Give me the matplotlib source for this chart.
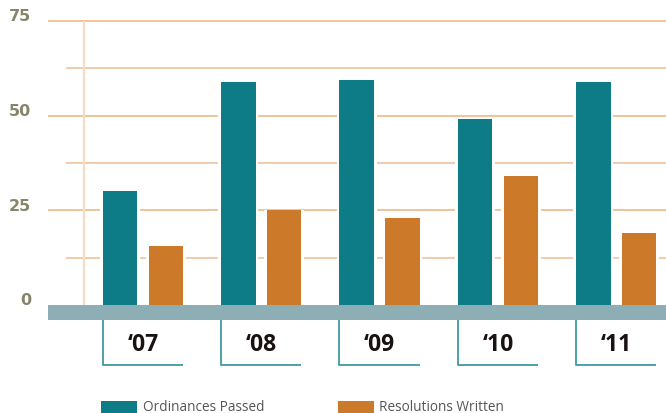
import matplotlib
matplotlib.use("Agg")
import matplotlib.pyplot as plt
from matplotlib.patches import Rectangle
import numpy as np

# Data
years = ["\u201807", "\u201808", "\u201809", "\u201810", "\u201811"]
ordinances = [30, 59, 59.5, 49, 59]
resolutions = [15.5, 25, 23, 34, 19]
y_ticks = [0, 25, 50, 75]
minor_ticks = [12.5, 37.5, 62.5]
series_names = ["Ordinances Passed", "Resolutions Written"]

TEAL = "#0e7c87"
ORANGE = "#cc7a29"
BAND = "#8eaeb6"
GRID = "#eebf93"
VLINE = "#f5dcc6"
BOXLINE = "#3d9ba3"
TICKCOL = "#86856a"

W, H = 666, 414
fig = plt.figure(figsize=(W / 100, H / 100), dpi=100)
ax = fig.add_axes([0, 0, 1, 1])

# pixel -> data conversion helpers
PX_PER_UNIT = 3.785
ZERO_PX = 305.9
GROUP_PX = 118.3
FIRST_PX = 143.0


def px_x(p):
    return (p - FIRST_PX) / GROUP_PX


def px_y(p):
    return (ZERO_PX - p) / PX_PER_UNIT


ax.set_xlim(px_x(0), px_x(W))
ax.set_ylim(px_y(H), px_y(0))
ax.axis("off")

x = np.arange(len(years))
bw = 0.2916
off = 0.1937

# gridlines
for v in y_ticks[1:]:
    ax.plot([px_x(48), px_x(W)], [v, v], color=GRID, lw=1.3, zorder=1,
            solid_capstyle="butt")
for v in minor_ticks:
    ax.plot([px_x(66), px_x(W)], [v, v], color=GRID, lw=1.1, zorder=1,
            solid_capstyle="butt")
ax.plot([px_x(83.7), px_x(83.7)], [0, 75], color=VLINE, lw=1.6, zorder=1,
        solid_capstyle="butt")

# bars with white halo so gridlines break around them
pad = 0.045
for xs, vals, col in [(x - off, ordinances, TEAL), (x + off, resolutions, ORANGE)]:
    ax.bar(xs, vals, width=bw + pad, color="white", zorder=2)
    ax.bar(xs, vals, width=bw, color=col, zorder=3)

# base band
ax.add_patch(Rectangle((px_x(48), px_y(320.7)), px_x(W) - px_x(48),
                       px_y(ZERO_PX) - px_y(320.7), color=BAND, zorder=4, lw=0))

# year label boxes
box_bottom = px_y(365.7)
for i, lab in enumerate(years):
    left = i - off - bw / 2
    right = i + off + bw / 2
    ax.plot([left, left, right], [px_y(320.7), box_bottom, box_bottom],
            color=BOXLINE, lw=1.3, zorder=4, solid_capstyle="butt")
    ax.text(i, px_y(345.5), lab, ha="center", va="center", fontsize=16.5,
            fontweight="bold", color="#1a1212", family="Open Sans")

# y tick labels
for v in y_ticks:
    ax.text(px_x(31), v + 0.2, str(v), ha="right", va="baseline", fontsize=11.5,
            fontweight="bold", color=TICKCOL, family="DejaVu Sans")

# legend
leg_y0 = px_y(414)
leg_y1 = px_y(401.7)
for x0, x1, tx, col, name in [(101, 136.7, 143.3, TEAL, series_names[0]),
                              (338.3, 374, 379.3, ORANGE, series_names[1])]:
    ax.add_patch(Rectangle((px_x(x0), leg_y0), px_x(x1) - px_x(x0), leg_y1 - leg_y0,
                           color=col, lw=0, zorder=4))
    ax.text(px_x(tx), px_y(408), name, ha="left", va="center", fontsize=9.8,
            color="#555555", family="Open Sans")

fig.savefig("out.png", dpi=100)
